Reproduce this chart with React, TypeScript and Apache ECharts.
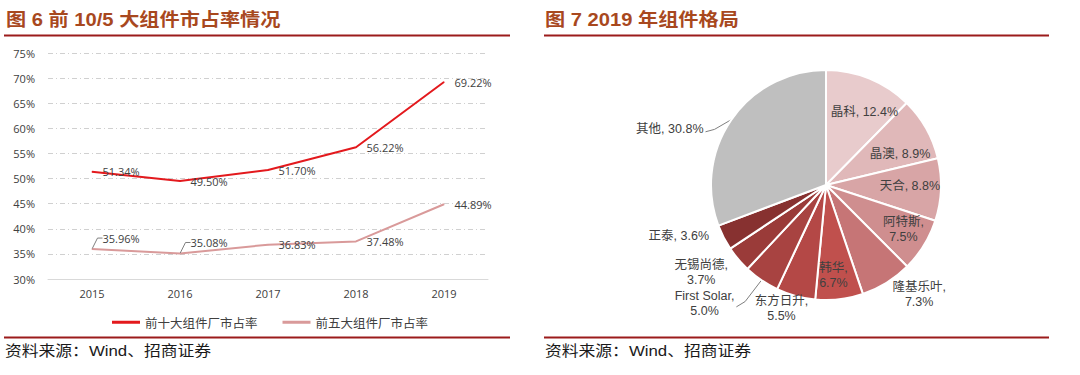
import React, { useEffect, useRef } from 'react';
import * as echarts from 'echarts';

// ---- data ----
const years = ['2015', '2016', '2017', '2018', '2019'];
const top10Share = [51.34, 49.5, 51.7, 56.22, 69.22];
const top5Share = [35.96, 35.08, 36.83, 37.48, 44.89];
const lineNames = ['前十大组件厂市占率', '前五大组件厂市占率'];

const pieNames = ['晶科', '晶澳', '天合', '阿特斯', '隆基乐叶', '韩华', '东方日升', 'First Solar', '无锡尚德', '正泰', '其他'];
const pieValues = [12.4, 8.9, 8.8, 7.5, 7.3, 6.7, 5.5, 5.0, 3.7, 3.6, 30.8];

const titleLeft = '图 6 前 10/5 大组件市占率情况';
const titleRight = '图 7 2019 年组件格局';
const sourceText = '资料来源：Wind、招商证券';

// ---- styles ----
const lineColors = ['#E3191D', '#D99A9A'];
const pieColors = ['#E8CBCC', '#E0B8B9', '#D8A5A6', '#CF8E8F', '#C67576', '#C0504D', '#B44846', '#A84341', '#9A3B39', '#873130', '#BFBFBF'];
// label placement relative to slice mid-angle (radius factor + nudge), wrap flag, guide line flag
const pieLabelPlace = [
  { f: 0.72, dx: 7, dy: 4, wrap: false, line: false },
  { f: 0.70, dx: 4, dy: 9, wrap: false, line: false },
  { f: 0.73, dx: 0, dy: -2, wrap: false, line: false },
  { f: 0.77, dx: 2, dy: -2, wrap: true, line: false },
  { f: 1.24, dx: 18, dy: -12, wrap: true, line: false },
  { f: 0.78, dx: -3, dy: 1, wrap: true, line: false },
  { f: 1.14, dx: -10, dy: -3, wrap: true, line: false },
  { f: 1.48, dx: -26, dy: -22, wrap: true, line: true },
  { f: 1.33, dx: -8, dy: -11, wrap: true, line: false },
  { f: 1.35, dx: -9, dy: -20, wrap: false, line: false },
  { f: 1.44, dx: -20, dy: 38, wrap: false, line: true },
];
const PIE_CX = 826;
const PIE_CY = 185;
const PIE_R = 115;

const TITLE_COLOR = '#A8481E';
const RULE_COLOR = '#9B1B1B';
const numFont = '"Open Sans", "Noto Sans CJK SC", sans-serif';
const pieFont = '"Liberation Sans", "Noto Sans CJK SC", sans-serif';

export default function App() {
  const ref = useRef<HTMLDivElement>(null);

  useEffect(() => {
    if (!ref.current) return;
    const chart = echarts.init(ref.current, undefined, { renderer: 'svg' });

    const total = pieValues.reduce((a, b) => a + b, 0);
    const midAngles: number[] = [];
    let cum = 0;
    pieValues.forEach((v) => {
      midAngles.push(((cum + v / 2) / total) * Math.PI * 2);
      cum += v;
    });

    const pieData = pieNames.map((n, i) => ({
      name: n,
      value: pieValues[i],
      itemStyle: { color: pieColors[i] },
      labelLine: { show: pieLabelPlace[i].line },
    }));

    const top5Data = top5Share.map((v, i) =>
      i < 2 ? { value: v, labelLine: { show: true } } : { value: v }
    );

    const titleText = (x: number, text: string) => ({
      type: 'text',
      x,
      y: 20,
      scaleX: 1.12,
      style: {
        text,
        fill: TITLE_COLOR,
        font: 'bold 18px "Liberation Sans", "Noto Sans CJK SC", sans-serif',
        verticalAlign: 'middle',
      },
    });
    const sourceLabel = (x: number) => ({
      type: 'text',
      x,
      y: 351,
      scaleX: 1.12,
      style: {
        text: sourceText,
        fill: '#1A1A1A',
        font: '15px "Liberation Sans", "Noto Sans CJK SC", sans-serif',
        verticalAlign: 'middle',
      },
    });
    const rule = (x1: number, x2: number, y: number) => ({
      type: 'line',
      shape: { x1, y1: y, x2, y2: y },
      style: { stroke: RULE_COLOR, lineWidth: 2 },
    });

    chart.setOption({
      animation: false,
      backgroundColor: '#ffffff',
      graphic: [
        titleText(6, titleLeft),
        titleText(545, titleRight),
        rule(4, 510, 35.5),
        rule(544, 1049, 35.5),
        rule(4, 510, 337.5),
        rule(544, 1049, 337.5),
        sourceLabel(5),
        sourceLabel(545),
      ],
      legend: {
        data: lineNames,
        left: 107,
        top: 311,
        icon: 'rect',
        itemWidth: 28,
        itemHeight: 3,
        itemGap: 25,
        textStyle: { fontSize: 12.5, color: '#404040', fontFamily: '"Noto Sans CJK SC", sans-serif' },
      },
      grid: { left: 48, right: 592, top: 53, bottom: 96 },
      xAxis: {
        type: 'category',
        data: years,
        boundaryGap: true,
        axisTick: { show: false },
        axisLine: { lineStyle: { color: '#D9D9D9', width: 1 } },
        axisLabel: { color: '#404040', fontSize: 11, fontFamily: numFont, margin: 9 },
      },
      yAxis: {
        type: 'value',
        min: 30,
        max: 75,
        interval: 5,
        axisLine: { show: false },
        axisTick: { show: false },
        axisLabel: { formatter: '{value}%', color: '#404040', fontSize: 11, fontFamily: numFont, margin: 13 },
        splitLine: { lineStyle: { color: '#D0D0D0', width: 1, type: [5, 3, 1, 3] } },
      },
      series: [
        {
          name: lineNames[0],
          type: 'line',
          data: top10Share,
          symbol: 'circle',
          symbolSize: 1,
          showSymbol: true,
          lineStyle: { color: lineColors[0], width: 2 },
          itemStyle: { color: lineColors[0] },
          label: {
            show: true,
            position: 'right',
            distance: 10,
            color: '#404040',
            fontSize: 11,
            fontFamily: numFont,
            formatter: (p: any) => Number(p.value).toFixed(2) + '%',
          },
        },
        {
          name: lineNames[1],
          type: 'line',
          data: top5Data,
          symbol: 'circle',
          symbolSize: 1,
          showSymbol: true,
          lineStyle: { color: lineColors[1], width: 2 },
          itemStyle: { color: lineColors[1] },
          label: {
            show: true,
            position: 'right',
            distance: 10,
            color: '#404040',
            fontSize: 11,
            fontFamily: numFont,
            formatter: (p: any) => Number(p.value).toFixed(2) + '%',
          },
          labelLine: { show: false, length2: 5, lineStyle: { color: '#7F7F7F', width: 1 } },
          labelLayout: (p: any) => (p.dataIndex < 2 ? { dy: -11 } : {}),
        },
        {
          name: '2019年组件格局',
          type: 'pie',
          center: [PIE_CX, PIE_CY],
          radius: [0, PIE_R],
          startAngle: 90,
          clockwise: true,
          avoidLabelOverlap: false,
          data: pieData,
          itemStyle: { borderColor: '#ffffff', borderWidth: 2 },
          label: {
            show: true,
            position: 'outside',
            alignTo: 'none',
            color: '#404040',
            fontSize: 12.5,
            lineHeight: 15,
            fontFamily: pieFont,
            formatter: (p: any) => {
              const sep = pieLabelPlace[p.dataIndex].wrap ? ',\n' : ', ';
              return p.name + sep + Number(p.value).toFixed(1) + '%';
            },
          },
          labelLine: { show: false, length: 8, length2: 0, lineStyle: { color: '#7F7F7F', width: 1 } },
          labelLayout: (p: any) => {
            const cfg = pieLabelPlace[p.dataIndex];
            const a = midAngles[p.dataIndex];
            const sx = Math.sin(a);
            const cy = Math.cos(a);
            const lx = PIE_CX + cfg.f * PIE_R * sx + cfg.dx;
            const ly = PIE_CY - cfg.f * PIE_R * cy + cfg.dy;
            const out: any = { x: lx, y: ly, align: 'center', verticalAlign: 'middle' };
            if (cfg.line) {
              const w = p.labelRect ? p.labelRect.width : 60;
              const edgeX = PIE_CX + PIE_R * sx;
              const edgeY = PIE_CY - PIE_R * cy;
              const endX = lx + w / 2 + 2;
              const endY = ly + 3;
              out.labelLinePoints = [
                [edgeX, edgeY],
                [endX + (edgeX - endX) * 0.35, endY + (edgeY - endY) * 0.2],
                [endX, endY],
              ];
            }
            return out;
          },
          emphasis: { disabled: true },
        },
      ],
    });

    return () => chart.dispose();
  }, []);

  return (
    <div
      ref={ref}
      style={{ position: 'fixed', left: 0, top: 0, width: 1080, height: 375, background: '#fff' }}
    />
  );
}
